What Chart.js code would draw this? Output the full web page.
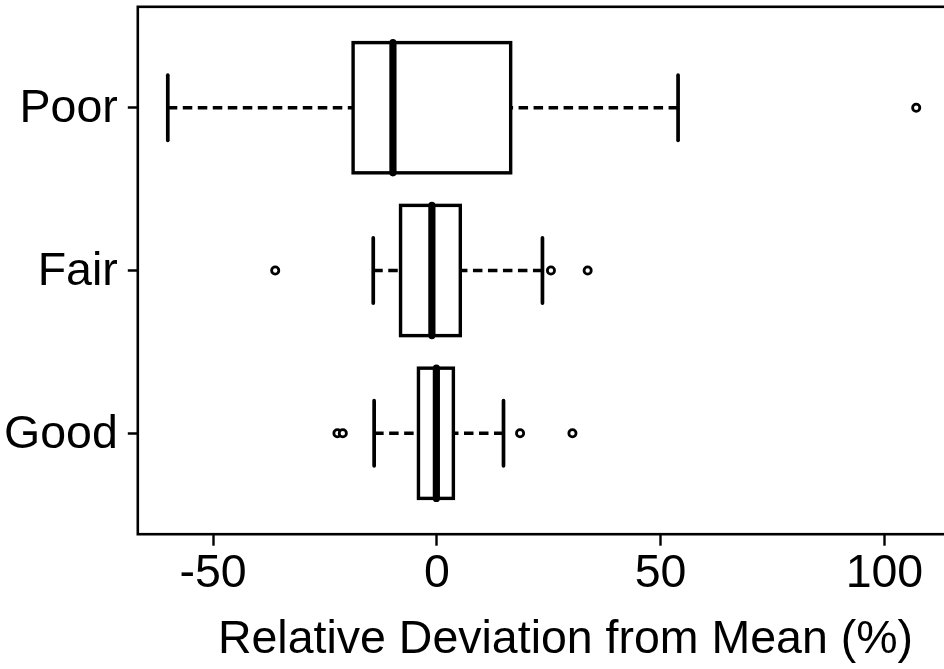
<!DOCTYPE html>
<html><head><meta charset="utf-8">
<script src="https://cdn.jsdelivr.net/npm/chart.js@4.4.1/dist/chart.umd.min.js"></script>
<style>
html,body{margin:0;padding:0;background:#fff;overflow:hidden;width:944px;height:669px;}
#wrap{position:absolute;left:0;top:0;width:1000px;height:669px;}
canvas{display:block;}
</style></head><body>
<div id="wrap"><canvas id="c" width="1000" height="669" style="width:1000px;height:669px"></canvas></div>
<script>
// ---- data ----
const categories   = ['Poor', 'Fair', 'Good'];
const categoryPos  = [3, 2, 1];
const lowerWhisker = [-60.1, -14.2, -14.0];
const q1           = [-18.7, -8.1, -4.1];
const median       = [-9.8, -1.1, -0.1];
const q3           = [16.5, 5.25, 3.7];
const upperWhisker = [53.9, 23.6, 14.9];
const outliers     = [[107.1], [-36.1, 25.5, 33.7], [-22.2, -21.0, 18.6, 30.3]];
const xTicks       = [-50, 0, 50, 100];
const xMin = -66.8, xMax = 124.3;   // plot region (image is cropped on the right)
const xTitle       = 'Relative Deviation from Mean (%)';

const yPad = categories.length * 0.04;
const FONT = 'Liberation Sans, Arial, Helvetica, sans-serif';
const FS = 46.5;
const outlierPoints = [];
outliers.forEach((arr, i) => arr.forEach(v => outlierPoints.push({x: v, y: categoryPos[i]})));

const boxPlugin = {
  id: 'boxdraw',
  afterDatasetsDraw(chart) {
    const {ctx, chartArea, scales: {x, y}} = chart;
    ctx.save();
    ctx.strokeStyle = '#000';
    const line = (x1, y1, x2, y2) => { ctx.beginPath(); ctx.moveTo(x1, y1); ctx.lineTo(x2, y2); ctx.stroke(); };
    categoryPos.forEach((p, i) => {
      const cy = y.getPixelForValue(p);
      const capT = y.getPixelForValue(p + 0.2), capB = y.getPixelForValue(p - 0.2);
      const boxT = y.getPixelForValue(p + 0.4), boxB = y.getPixelForValue(p - 0.4);
      // dashed whiskers
      ctx.setLineDash([9.5, 5.5]); ctx.lineWidth = 3.5; ctx.lineCap = 'butt';
      line(x.getPixelForValue(lowerWhisker[i]), cy, x.getPixelForValue(q1[i]), cy);
      line(x.getPixelForValue(upperWhisker[i]), cy, x.getPixelForValue(q3[i]), cy);
      ctx.setLineDash([]);
      // staples
      ctx.lineWidth = 3.7; ctx.lineCap = 'round';
      line(x.getPixelForValue(lowerWhisker[i]), capT, x.getPixelForValue(lowerWhisker[i]), capB);
      line(x.getPixelForValue(upperWhisker[i]), capT, x.getPixelForValue(upperWhisker[i]), capB);
      // box outline
      ctx.lineWidth = 3.4; ctx.lineJoin = 'miter'; ctx.lineCap = 'butt';
      const bx1 = x.getPixelForValue(q1[i]), bx2 = x.getPixelForValue(q3[i]);
      ctx.strokeRect(bx1, boxT, bx2 - bx1, boxB - boxT);
      // median
      ctx.lineWidth = 7.2; ctx.lineCap = 'round';
      line(x.getPixelForValue(median[i]), boxT, x.getPixelForValue(median[i]), boxB);
    });
    // frame
    ctx.lineWidth = 2.6; ctx.lineCap = 'butt';
    ctx.strokeRect(chartArea.left, chartArea.top, chartArea.right - chartArea.left, chartArea.bottom - chartArea.top);
    ctx.restore();
  }
};

new Chart(document.getElementById('c'), {
  type: 'bar',
  data: {
    datasets: [
      {
        type: 'bar',
        indexAxis: 'y',
        data: categoryPos.map((p, i) => ({y: p, x: [q1[i], q3[i]]})),
        backgroundColor: '#ffffff',
        borderWidth: 0,
        barPercentage: 1,
        categoryPercentage: 0.8,
        xAxisID: 'x', yAxisID: 'y'
      },
      {
        type: 'scatter',
        data: outlierPoints,
        pointStyle: 'circle',
        pointRadius: 3.6,
        pointBorderWidth: 2.8,
        borderColor: '#000',
        backgroundColor: '#fff',
        pointBackgroundColor: '#fff',
        pointBorderColor: '#000',
        showLine: false,
        xAxisID: 'x', yAxisID: 'y'
      }
    ]
  },
  options: {
    responsive: false,
    animation: false,
    devicePixelRatio: 1,
    layout: {padding: {top: 6, right: 5.8, left: 0, bottom: 0}},
    plugins: {legend: {display: false}, tooltip: {enabled: false}},
    scales: {
      x: {
        type: 'linear', position: 'bottom',
        min: xMin, max: xMax,
        offset: false,
        afterBuildTicks: s => { s.ticks = xTicks.map(v => ({value: v})); },
        afterFit: s => { s.height = 134.8; s.paddingLeft = 0; s.paddingRight = 0; },
        ticks: {color: '#000', font: {family: FONT, size: FS}, padding: 1, maxRotation: 0, autoSkip: false,
                callback: v => String(v)},
        grid: {display: true, drawOnChartArea: false, drawTicks: true, tickLength: 11.5, tickColor: '#000', tickWidth: 2.4, offset: false},
        border: {display: false},
        title: {display: true, text: xTitle, color: '#000', font: {family: FONT, size: FS}, padding: {top: 0, bottom: 0.5}}
      },
      y: {
        type: 'linear', position: 'left',
        min: 0.5 - yPad, max: categories.length + 0.5 + yPad,
        offset: false,
        afterBuildTicks: s => { s.ticks = categoryPos.map(v => ({value: v})); },
        afterFit: s => { s.width = 137.8; s.paddingTop = 0; s.paddingBottom = 0; },
        ticks: {color: '#000', font: {family: FONT, size: FS}, padding: 10, labelOffset: 1.5, autoSkip: false,
                callback: v => categories[categoryPos.indexOf(v)]},
        grid: {display: true, drawOnChartArea: false, drawTicks: true, tickLength: 10, tickColor: '#000', tickWidth: 2.5, offset: false},
        border: {display: false}
      }
    }
  },
  plugins: [boxPlugin]
});
</script>
</body></html>
